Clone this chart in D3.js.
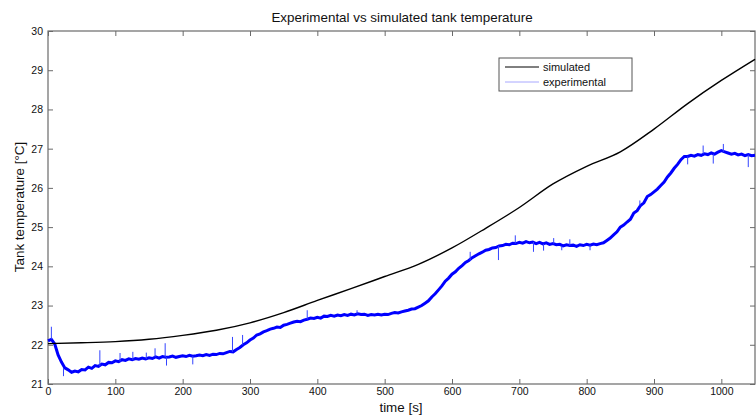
<!DOCTYPE html>
<html>
<head>
<meta charset="utf-8">
<script src="https://cdn.jsdelivr.net/npm/d3@7"></script>
<style>
  html, body { margin: 0; padding: 0; background: #fff; }
  svg { display: block; font-family: "Liberation Sans", Arial, sans-serif; }
</style>
</head>
<body>
<svg id="chart" width="756" height="416"></svg>
<script>
// Simulated tank temperature, sampled every 50 s
const simTime = [0, 50, 100, 150, 200, 250, 300, 350, 400, 450, 500, 550, 600, 650, 700, 750, 800, 850, 900, 950, 1000, 1050];
const simTemp = [22.03, 22.05, 22.08, 22.14, 22.24, 22.37, 22.56, 22.82, 23.13, 23.43, 23.74, 24.05, 24.47, 24.97, 25.50, 26.10, 26.55, 26.92, 27.50, 28.15, 28.74, 29.28];

// Measured tank temperature, one reading every 5 s (t = 0 … 1050)
const expStep = 5;
const expTemp = [
  22.10, 22.14, 22.02, 21.74, 21.56, 21.41, 21.36, 21.30, 21.33, 21.31,
  21.37, 21.36, 21.43, 21.40, 21.47, 21.45, 21.51, 21.49, 21.55, 21.54,
  21.59, 21.57, 21.62, 21.60, 21.64, 21.62, 21.65, 21.63, 21.66, 21.64,
  21.67, 21.65, 21.69, 21.66, 21.70, 21.68, 21.69, 21.71, 21.68, 21.70,
  21.72, 21.70, 21.73, 21.71, 21.72, 21.74, 21.72, 21.75, 21.73, 21.76,
  21.75, 21.78, 21.77, 21.80, 21.83, 21.82, 21.88, 21.93, 22.00, 22.05,
  22.12, 22.17, 22.25, 22.28, 22.33, 22.36, 22.40, 22.42, 22.45, 22.44,
  22.50, 22.52, 22.55, 22.58, 22.60, 22.59, 22.63, 22.65, 22.68, 22.67,
  22.70, 22.68, 22.73, 22.72, 22.75, 22.73, 22.76, 22.74, 22.77, 22.75,
  22.78, 22.76, 22.79, 22.77, 22.78, 22.75, 22.77, 22.76, 22.78, 22.76,
  22.78, 22.77, 22.80, 22.82, 22.81, 22.84, 22.86, 22.88, 22.91, 22.92,
  22.96, 23.00, 23.06, 23.12, 23.22, 23.30, 23.40, 23.50, 23.62, 23.70,
  23.80, 23.86, 23.95, 24.02, 24.10, 24.15, 24.22, 24.27, 24.32, 24.36,
  24.41, 24.43, 24.47, 24.48, 24.52, 24.53, 24.56, 24.55, 24.59, 24.58,
  24.61, 24.59, 24.63, 24.60, 24.62, 24.58, 24.61, 24.57, 24.60, 24.56,
  24.58, 24.55, 24.56, 24.52, 24.55, 24.53, 24.54, 24.51, 24.55, 24.53,
  24.56, 24.54, 24.57, 24.55, 24.58, 24.60, 24.66, 24.72, 24.80, 24.88,
  25.00, 25.05, 25.13, 25.20, 25.36, 25.42, 25.55, 25.62, 25.78, 25.83,
  25.90, 25.97, 26.06, 26.15, 26.28, 26.38, 26.50, 26.60, 26.72, 26.80,
  26.80, 26.83, 26.81, 26.85, 26.83, 26.87, 26.85, 26.89, 26.86, 26.91,
  26.95, 26.92, 26.89, 26.86, 26.88, 26.84, 26.86, 26.82, 26.85, 26.82,
  26.83
];

// Short sensor spikes: [time, peak temperature]
const spikeTime = [5, 23, 77, 107, 126, 146, 159, 174, 176, 215, 274, 289, 385, 459, 627, 669, 694, 721, 736, 751, 763, 775, 805, 879, 950, 973, 988, 1003, 1040];
const spikeTemp = [22.46, 21.20, 21.86, 21.79, 21.82, 21.80, 21.91, 22.04, 21.47, 21.50, 22.20, 22.25, 22.88, 22.88, 24.37, 24.16, 24.79, 24.37, 24.40, 24.72, 24.41, 24.69, 24.41, 25.68, 26.60, 27.08, 26.62, 27.12, 26.53];

const xTicks = [0, 100, 200, 300, 400, 500, 600, 700, 800, 900, 1000];
const yTicks = [21, 22, 23, 24, 25, 26, 27, 28, 29, 30];

const seriesNames = ["simulated", "experimental"];
const seriesColors = ["#000000", "#0000ff"];

const svg = d3.select("#chart");
const plotLeft = 48, plotRight = 755, plotTop = 31, plotBottom = 384;

const x = d3.scaleLinear().domain([0, 1050]).range([plotLeft, plotRight]);
const y = d3.scaleLinear().domain([21, 30]).range([plotBottom, plotTop]);

const axisColor = "#6a6a6a";
const tickLen = 5;

// Title
svg.append("text")
  .attr("x", 402).attr("y", 22)
  .attr("text-anchor", "middle")
  .attr("font-size", 13.4)
  .attr("fill", "#111")
  .text("Experimental vs simulated tank temperature");

// Axes: ticks point inward, mirrored on top and right
const gx = svg.append("g").attr("transform", `translate(0,${plotBottom})`)
  .call(d3.axisBottom(x).tickValues(xTicks).tickSize(-tickLen).tickPadding(4).tickFormat(d3.format("d")));
const gxTop = svg.append("g").attr("transform", `translate(0,${plotTop})`)
  .call(d3.axisTop(x).tickValues(xTicks).tickSize(-tickLen).tickFormat(""));
const gy = svg.append("g").attr("transform", `translate(${plotLeft},0)`)
  .call(d3.axisLeft(y).tickValues(yTicks).tickSize(-tickLen).tickPadding(5).tickFormat(d3.format("d")));
const gyRight = svg.append("g").attr("transform", `translate(${plotRight},0)`)
  .call(d3.axisRight(y).tickValues(yTicks).tickSize(-tickLen).tickFormat(""));

[gx, gxTop, gy, gyRight].forEach(g => {
  g.select(".domain").remove();
  g.selectAll(".tick line").attr("stroke", axisColor).attr("stroke-width", 1);
  g.selectAll(".tick text").attr("fill", "#111").attr("font-size", 10.5)
    .attr("font-family", "'Liberation Sans', Arial, sans-serif");
});

// Frame
svg.append("rect")
  .attr("x", plotLeft).attr("y", plotTop)
  .attr("width", plotRight - plotLeft).attr("height", plotBottom - plotTop)
  .attr("fill", "none").attr("stroke", axisColor).attr("stroke-width", 1.2);

// Axis labels
svg.append("text")
  .attr("x", 401).attr("y", 412)
  .attr("text-anchor", "middle").attr("font-size", 13.4).attr("fill", "#111")
  .text("time [s]");
svg.append("text")
  .attr("transform", "translate(24,207) rotate(-90)")
  .attr("text-anchor", "middle").attr("font-size", 13.4).attr("fill", "#111")
  .text("Tank temperature [°C]");

const plot = svg.append("g");

// Experimental trace
const expData = expTemp.map((v, i) => [i * expStep, v]);
plot.append("path")
  .datum(expData)
  .attr("fill", "none")
  .attr("stroke", seriesColors[1])
  .attr("stroke-width", 3)
  .attr("stroke-linejoin", "miter")
  .attr("d", d3.line().x(d => x(d[0])).y(d => y(d[1])));

plot.selectAll("line.spike")
  .data(spikeTime.map((t, i) => [t, spikeTemp[i]]))
  .join("line")
  .attr("class", "spike")
  .attr("x1", d => x(d[0])).attr("x2", d => x(d[0]))
  .attr("y1", d => y(expTemp[Math.round(d[0] / expStep)]))
  .attr("y2", d => y(d[1]))
  .attr("stroke", "#3344ff")
  .attr("stroke-width", 1);

// Simulated curve
plot.append("path")
  .datum(simTime.map((t, i) => [t, simTemp[i]]))
  .attr("fill", "none")
  .attr("stroke", seriesColors[0])
  .attr("stroke-width", 1.4)
  .attr("d", d3.line().x(d => x(d[0])).y(d => y(d[1])).curve(d3.curveMonotoneX));

// Legend
const lg = svg.append("g");
lg.append("rect")
  .attr("x", 499).attr("y", 58).attr("width", 133).attr("height", 33)
  .attr("fill", "#fff").attr("stroke", "#555").attr("stroke-width", 1);
seriesNames.forEach((name, i) => {
  const yy = 67 + i * 15;
  lg.append("line")
    .attr("x1", 505).attr("x2", 539).attr("y1", yy).attr("y2", yy)
    .attr("stroke", i === 0 ? seriesColors[0] : "#a8a8ff")
    .attr("stroke-width", 1);
  lg.append("text")
    .attr("x", 543).attr("y", yy + 4)
    .attr("font-size", 11).attr("fill", "#111")
    .text(name);
});
</script>
</body>
</html>
